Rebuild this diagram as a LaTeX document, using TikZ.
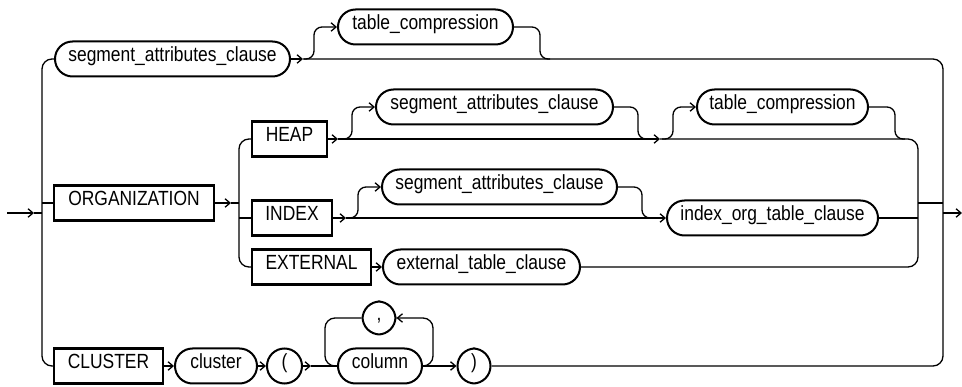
\documentclass[tikz,border=0pt]{standalone}
\usepackage{fontspec}
\setmainfont{Liberation Sans}[FakeStretch=0.85]
\usepackage{tikz}
\usetikzlibrary{arrows.meta}
\newcommand{\railfont}{\fontsize{20.5}{22}\selectfont}

\begin{document}
\begin{tikzpicture}[x=1pt, y=-1pt, line width=1.3pt,
  kw/.style={draw, line width=2.2pt, minimum height=35pt, inner sep=0pt,
             text height=0.75em, text depth=0.25em, font=\railfont},
  nt/.style={draw, line width=2pt, rounded corners=17.5pt, minimum height=35pt,
             inner sep=0pt, text height=0.75em, text depth=0.25em, font=\railfont},
  arr/.style={-{Straight Barb[length=5pt,width=8.5pt]}},
  rr/.style={rounded corners=10pt},
  sc/.style={rounded corners=8pt}
]
\useasboundingbox (0,0) rectangle (962,387);

% nodes
\node[nt, minimum width=235pt] (seg1) at (172.5,59) {segment\_attributes\_clause};
\node[nt, minimum width=175pt] (tc1) at (425.5,27) {table\_compression};
\node[kw, minimum width=160pt] (org) at (134,203) {ORGANIZATION};
\node[kw, minimum width=75pt] (heap) at (289.5,139) {HEAP};
\node[kw, minimum width=80pt] (idx) at (292,218) {INDEX};
\node[kw, minimum width=119pt] (ext) at (311.5,267) {EXTERNAL};
\node[nt, minimum width=237pt] (seg2) at (494.5,107) {segment\_attributes\_clause};
\node[nt, minimum width=171pt] (tc2) at (782.5,107) {table\_compression};
\node[nt, minimum width=235pt] (seg3) at (499.5,187) {segment\_attributes\_clause};
\node[nt, minimum width=211pt] (iot) at (772.5,218) {index\_org\_table\_clause};
\node[nt, minimum width=197pt] (etc) at (481.5,267) {external\_table\_clause};
\node[kw, minimum width=109pt] (clu) at (108.5,366) {CLUSTER};
\node[nt, minimum width=82pt] (cl) at (216,366) {cluster};
\node[nt, minimum width=35pt] (lp) at (284.5,366) {(};
\node[nt, minimum width=84pt] (col) at (380,366) {column};
\node[nt, minimum width=33pt, minimum height=33pt] (cm) at (379,318) {,};
\node[nt, minimum width=33pt] (rp) at (474,366) {)};

\coordinate (in) at (7,213);
\coordinate (out) at (962,213);

% outer rails
\draw[arr] (in) -- (34,213);
\draw (34,213) -- (42,213);
\draw[rr] (seg1.west) -| (42,366) -- (clu.west);
\draw[arr] (seg1.east) -- (303,59);
\draw[rr] (303,59) -| (943,366) -- (rp.east);
\draw[arr, sc] (304,59) -| (314,27) -- (tc1.west);
\draw[sc] (tc1.east) -| (540,59) -- (550,59);
\draw[arr] (943,213) -- (out);

% organization
\draw (42,203) -- (org.west);
\draw[arr] (org.east) -- (231,203);
\draw (231,203) -- (239,203);
\draw[rr] (heap.west) -| (239,267) -- (ext.west);
\draw (239,218) -- (idx.west);
\draw (918,203) -- (943,203);

% heap
\draw[arr] (heap.east) -- (338,139);
\draw[arr] (338,139) -- (660,139);
\draw[rr] (660,139) -| (918,267) -- (etc.east);
\draw[arr, sc] (340,139) -| (352,107) -- (seg2.west);
\draw[sc] (seg2.east) -| (638,139) -- (652,139);
\draw[arr, sc] (662,139) -| (673,107) -- (tc2.west);
\draw[sc] (tc2.east) -| (895,139) -- (905,139);

% index
\draw[arr] (idx.east) -- (346,218);
\draw[arr] (346,218) -- (iot.west);
\draw[arr, sc] (348,218) -| (358,187) -- (seg3.west);
\draw[sc] (seg3.east) -| (642,218) -- (655,218);
\draw (iot.east) -- (918,218);

% external
\draw[arr] (ext.east) -- (etc.west);

% cluster
\draw[arr] (clu.east) -- (cl.west);
\draw[arr] (cl.east) -- (lp.west);
\draw[arr] (lp.east) -- (311,366);
\draw (311,366) -- (col.west);
\draw[rr] (col.west) -| (325,318) -- (cm.west);
\draw[arr, rr] (col.east) -| (433,318) -- (cm.east);
\draw[arr] (col.east) -- (rp.west);
\end{tikzpicture}
\end{document}
